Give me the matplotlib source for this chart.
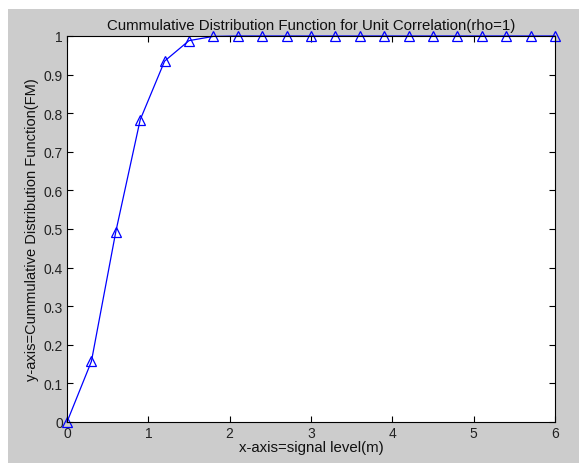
import matplotlib
matplotlib.use("Agg")
import matplotlib.pyplot as plt
from matplotlib.patches import Rectangle
import numpy as np

# signal level (m) and the CDF value at each step
signal_level = [0, 0.3, 0.6, 0.9, 1.2, 1.5, 1.8, 2.1, 2.4, 2.7, 3.0,
                3.3, 3.6, 3.9, 4.2, 4.5, 4.8, 5.1, 5.4, 5.7, 6.0]
cdf_fm = [0, 0.157, 0.493, 0.783, 0.935, 0.988, 0.999, 1, 1, 1, 1,
          1, 1, 1, 1, 1, 1, 1, 1, 1, 1]

plt.rcParams['font.family'] = ['Liberation Sans', 'DejaVu Sans']
plt.rcParams['font.size'] = 10

fig = plt.figure(figsize=(5.79, 4.64), dpi=100, facecolor='white')
# grey figure panel, offset a little from the top-left corner
fig.patches.append(Rectangle((8 / 579, 0), 1 - 8 / 579, 1 - 10 / 464,
                             transform=fig.transFigure, facecolor='#cccccc',
                             edgecolor='none', zorder=-5))

ax = fig.add_axes([67 / 579, 1 - 423 / 464, 488 / 579, 386 / 464])
ax.set_zorder(1)
ax.set_facecolor('white')
ax.plot(signal_level, cdf_fm, '-', color='#0000ff', lw=0.9,
        marker='^', markersize=7, markerfacecolor='none',
        markeredgecolor='#0000ff', markeredgewidth=0.9, clip_on=False)

ax.set_xlim(0, 6)
ax.set_ylim(0, 1)
ax.set_xticks(range(0, 7))
ax.set_yticks(np.arange(0, 1.01, 0.1))
ax.set_yticklabels(['0', '0.1', '0.2', '0.3', '0.4', '0.5', '0.6', '0.7', '0.8', '0.9', '1'])
ax.tick_params(direction='in', length=4, width=0.8, top=True, right=True,
               colors='black', labelcolor='#222222', labelsize=10, pad=3)
for s in ax.spines.values():
    s.set_linewidth(0.8)

ax.set_title('Cummulative Distribution Function for Unit Correlation(rho=1)',
             fontsize=10.8, pad=5, color='#111111')
ax.set_xlabel('x-axis=signal level(m)', fontsize=10.8, labelpad=0, color='#111111')
ax.set_ylabel('y-axis=Cummulative Distribution Function(FM)', fontsize=10.5,
              labelpad=3, color='#111111')

fig.savefig('out.png', dpi=100, facecolor=fig.get_facecolor())
